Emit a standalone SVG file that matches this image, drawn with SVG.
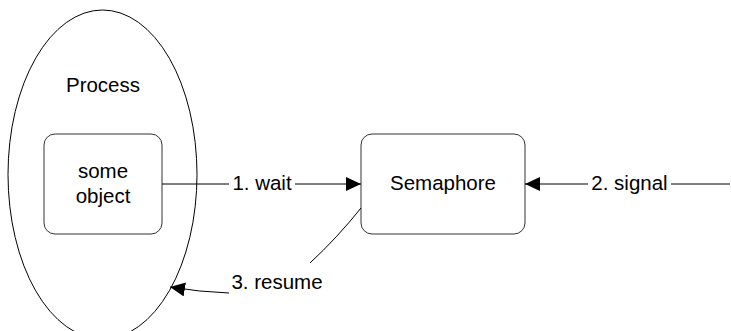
<svg xmlns="http://www.w3.org/2000/svg" width="731" height="331" viewBox="0 0 731 331">
  <style>
    text { font-family: "Liberation Sans", Arial, sans-serif; font-size: 20.5px; fill: #000; text-anchor: middle; }
    .box { fill: #fff; stroke: #333; stroke-width: 1; }
    .edge { fill: none; stroke: #000; stroke-width: 1; }
  </style>
  <defs>
    <marker id="arrow" markerUnits="userSpaceOnUse" markerWidth="15" markerHeight="14" refX="15" refY="7" orient="auto">
      <path d="M0,0 L15,7 L0,14 z" fill="#000"/>
    </marker>
  </defs>
  <rect width="731" height="331" fill="#fff"/>
  <g id="process">
    <ellipse cx="102.5" cy="174.5" rx="94.5" ry="164.5" fill="none" stroke="#000" stroke-width="1"/>
    <text x="103" y="92">Process</text>
  </g>
  <g id="some-object">
    <rect class="box" x="44" y="134" width="118" height="100" rx="11"/>
    <text x="103" y="178">some</text>
    <text x="103" y="203">object</text>
  </g>
  <g id="semaphore">
    <rect class="box" x="361" y="134" width="164" height="100" rx="11"/>
    <text x="443" y="190">Semaphore</text>
  </g>
  <g id="connectors">
    <path class="edge" d="M162,184 H229"/>
    <path class="edge" d="M295,184 H361" marker-end="url(#arrow)"/>
    <text x="262" y="190">1. wait</text>
    <path class="edge" d="M730,184 H671"/>
    <path class="edge" d="M588,184 H525" marker-end="url(#arrow)"/>
    <text x="629.5" y="190">2. signal</text>
    <path class="edge" d="M361,208 Q337,238 310,263"/>
    <path class="edge" d="M229,293 Q200,292 170,287" marker-end="url(#arrow)"/>
    <text x="277" y="289">3. resume</text>
  </g>
</svg>
